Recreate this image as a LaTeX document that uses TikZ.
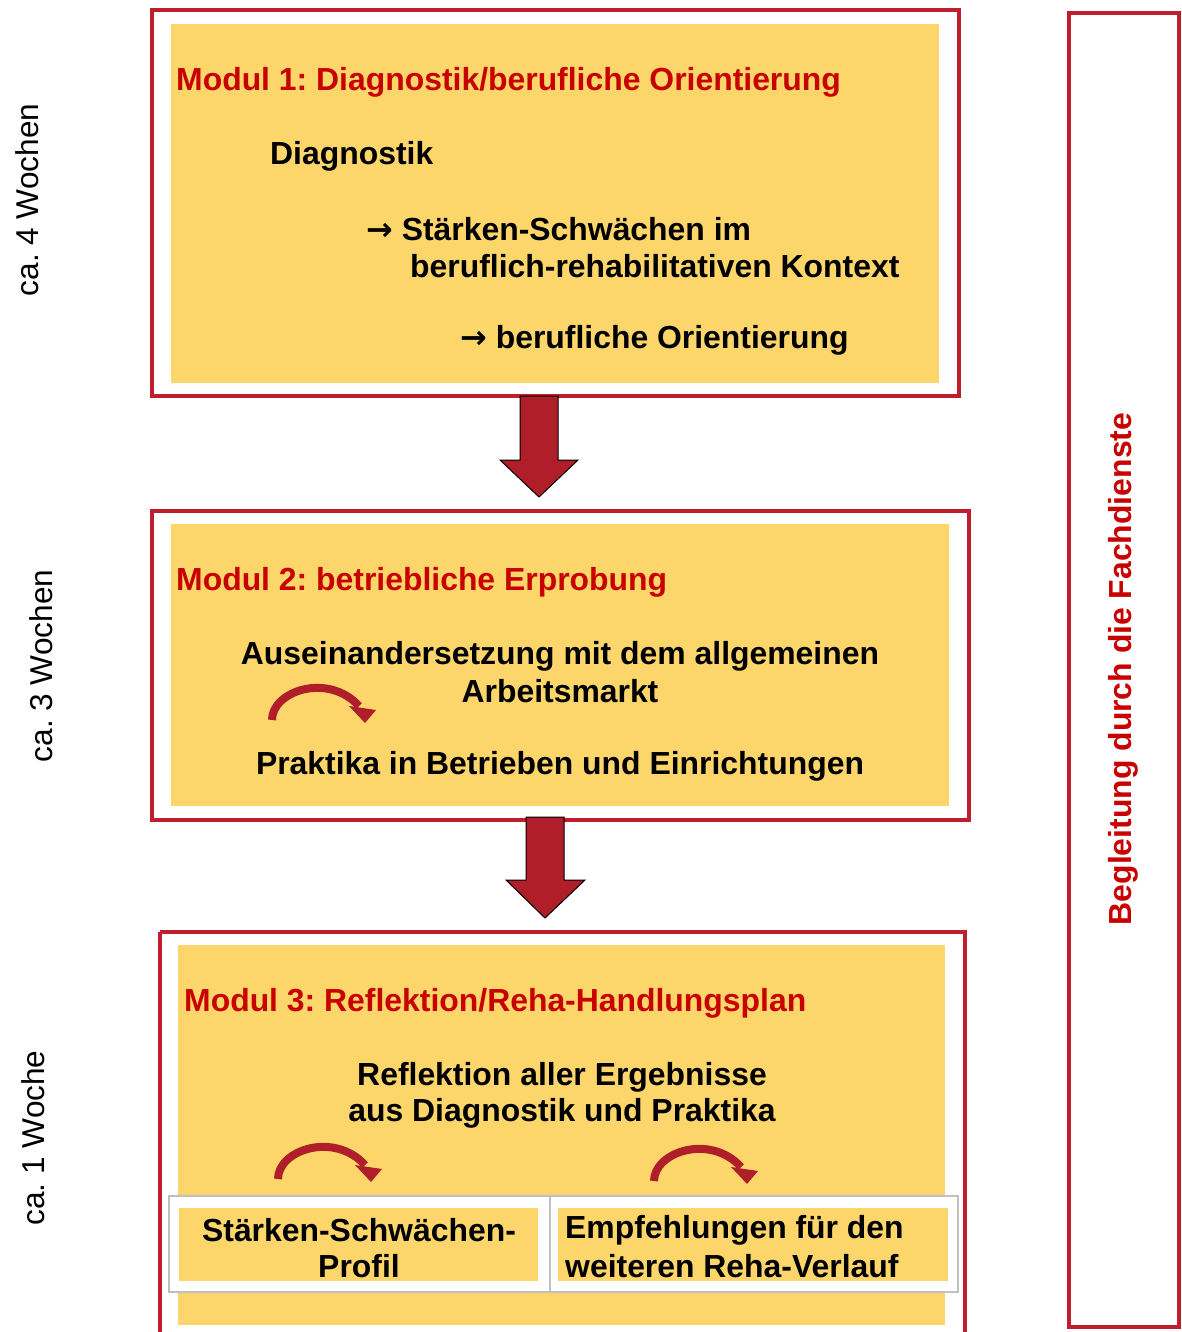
\documentclass[tikz,border=0pt]{standalone}
\usepackage{fontspec}
\setmainfont{Liberation Sans}
\newfontfamily\arrowfont{DejaVu Sans}
\definecolor{boxyellow}{RGB}{252,214,106}
\definecolor{borderred}{RGB}{190,30,45}
\definecolor{titlered}{RGB}{200,0,0}
\definecolor{arrowred}{RGB}{176,30,42}
\definecolor{tablegray}{RGB}{192,192,192}
\tikzset{
  txt/.style={inner sep=0pt, font=\fontsize{31.9}{37}\selectfont\bfseries},
  ttl/.style={inner sep=0pt, text=titlered, font=\fontsize{31.9}{37}\selectfont\bfseries},
  vlab/.style={inner sep=0pt, rotate=90, font=\fontsize{31.6}{37}\selectfont},
  outerbox/.style={draw=borderred, line width=4pt},
  innerbox/.style={fill=boxyellow},
  blockarrow/.style={fill=arrowred, draw=black, line width=1pt},
  curv/.pic={
    \draw[arrowred, line width=8pt] (6,34) .. controls (6,5) and (62,-14) .. (93,20);
    \fill[arrowred] (83,20) -- (110,24) -- (99,37) -- cycle;
  }
}
\newcommand{\arr}{{\arrowfont\bfseries →}}
\begin{document}
\frenchspacing
\begin{tikzpicture}[x=1pt,y=-1pt]
\useasboundingbox (0,0) rectangle (1181,1332);
\fill[white] (0,0) rectangle (1181,1332);

% Module 1
\draw[outerbox] (152,10) rectangle (959,396);
\fill[innerbox] (171,24) rectangle (939,383);
\node[ttl, anchor=west] (t1) at (176,82) {Modul 1: Diagnostik/berufliche Orientierung};
\node[txt, anchor=west] (d1) at (270,156) {Diagnostik};
\node[txt, anchor=west] (d2) at (366,229) {\arr\ Stärken-Schwächen im};
\node[txt, anchor=west] (d3) at (410,266) {beruflich-rehabilitativen Kontext};
\node[txt, anchor=west] (d4) at (460,340) {\arr\ berufliche Orientierung};

% Arrow 1
\fill[blockarrow] (520,396) -- (558,396) -- (558,460) -- (578,460) -- (539,497) -- (500,460) -- (520,460) -- cycle;

% Module 2
\draw[outerbox] (152,511) rectangle (969,820);
\fill[innerbox] (171,524) rectangle (949,806);
\node[ttl, anchor=west] (t2) at (176,582) {Modul 2: betriebliche Erprobung};
\node[txt] (e1) at (560,656) {Auseinandersetzung mit dem allgemeinen};
\node[txt] (e2) at (560,691) {Arbeitsmarkt};
\node[txt] (e3) at (560,766) {Praktika in Betrieben und Einrichtungen};
\pic at (266,686) {curv};

% Arrow 2
\fill[blockarrow] (526,817) -- (564,817) -- (564,880) -- (585,880) -- (545,918) -- (506,880) -- (526,880) -- cycle;

% Module 3
\draw[outerbox] (160,932) -- (160,1340);
\draw[outerbox] (160,932) -- (965,932) -- (965,1340);
\fill[innerbox] (178,945) rectangle (945,1325);
\node[ttl, anchor=west] (t3) at (184,1003) {Modul 3: Reflektion/Reha-Handlungsplan};
\node[txt] (r1) at (562,1077) {Reflektion aller Ergebnisse};
\node[txt] (r2) at (562,1113) {aus Diagnostik und Praktika};
\pic at (272,1145) {curv};
\pic at (648,1147) {curv};

% Table
\draw[tablegray, line width=2pt, fill=white] (169,1196) rectangle (958,1292);
\draw[tablegray, line width=2pt] (550,1196) -- (550,1292);
\fill[innerbox] (179,1208) rectangle (538,1281);
\fill[innerbox] (558,1208) rectangle (948,1281);
\node[txt] (c1) at (359,1230) {Stärken-Schwächen-};
\node[txt] (c2) at (359,1266) {Profil};
\node[txt, anchor=west] (c3) at (565,1230) {Empfehlungen für den};
\node[txt, anchor=west] (c4) at (565,1266) {weiteren Reha-Verlauf};

% Side labels
\node[vlab] (w1) at (27,200) {ca. 4 Wochen};
\node[vlab] (w2) at (41,666) {ca. 3 Wochen};
\node[vlab] (w3) at (33,1138) {ca. 1 Woche};

% Right bar
\draw[outerbox] (1069,13) rectangle (1179,1327);
\node[ttl, rotate=90] (fd) at (1123,669) {Begleitung durch die Fachdienste};
\end{tikzpicture}
\end{document}
